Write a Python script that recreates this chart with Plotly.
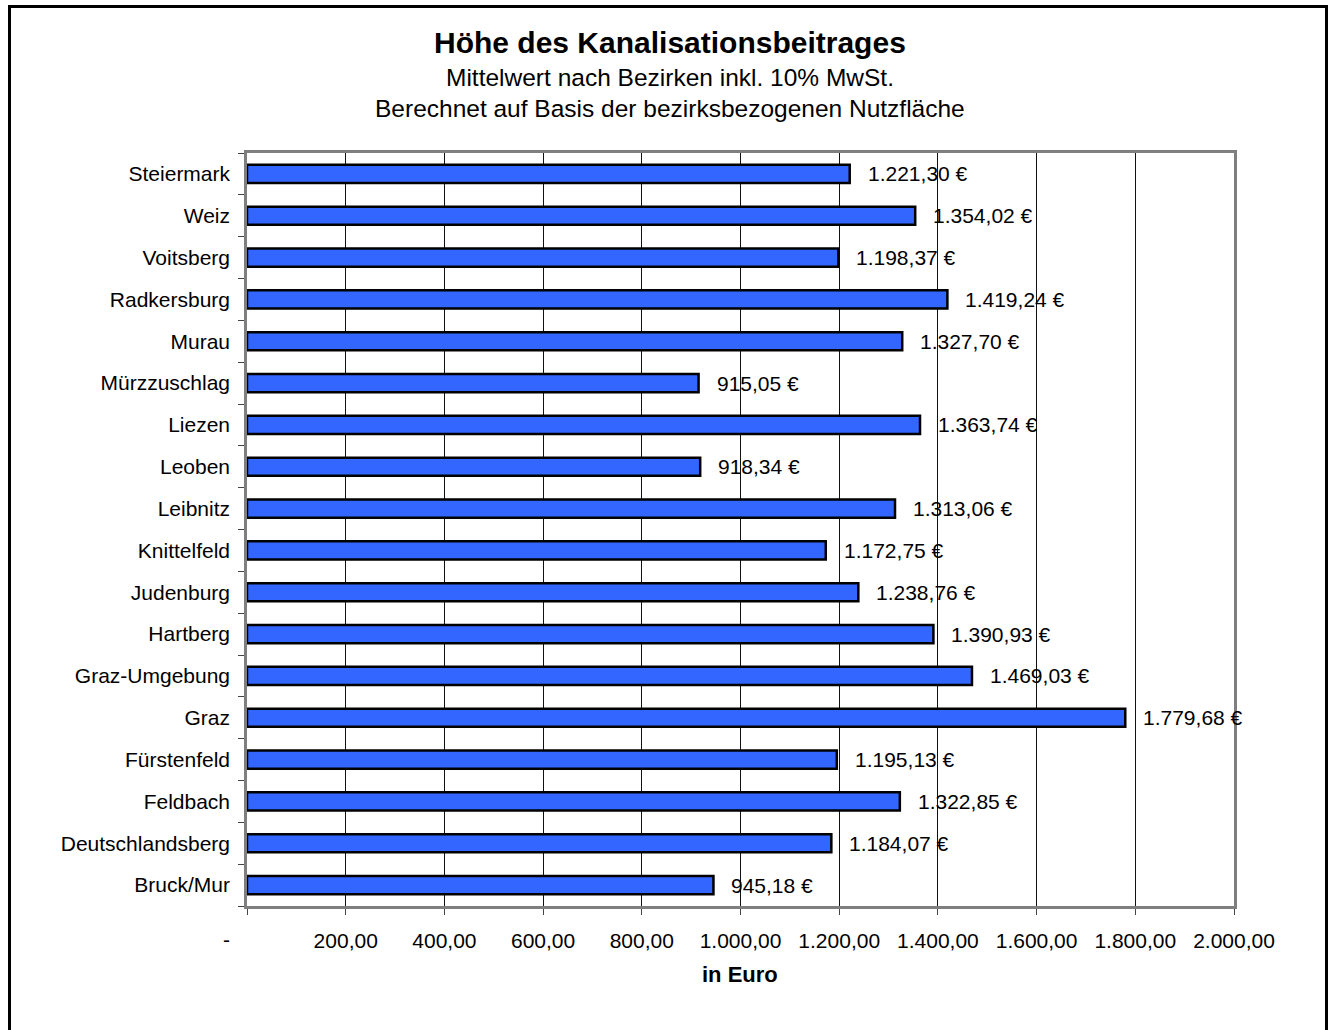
import plotly.graph_objects as go

categories = ["Bruck/Mur", "Deutschlandsberg", "Feldbach", "Fürstenfeld", "Graz",
              "Graz-Umgebung", "Hartberg", "Judenburg", "Knittelfeld", "Leibnitz",
              "Leoben", "Liezen", "Mürzzuschlag", "Murau", "Radkersburg",
              "Voitsberg", "Weiz", "Steiermark"]
values = [945.18, 1184.07, 1322.85, 1195.13, 1779.68,
          1469.03, 1390.93, 1238.76, 1172.75, 1313.06,
          918.34, 1363.74, 915.05, 1327.70, 1419.24,
          1198.37, 1354.02, 1221.30]
x_tickvals = [0, 200, 400, 600, 800, 1000, 1200, 1400, 1600, 1800, 2000]
x_ticktext = ["", "200,00", "400,00", "600,00", "800,00", "1.000,00", "1.200,00",
              "1.400,00", "1.600,00", "1.800,00", "2.000,00"]

FONT = "Liberation Sans, Arial, sans-serif"


def de_fmt(v):
    s = f"{v:,.2f}"
    return s.replace(",", "X").replace(".", ",").replace("X", ".") + " €"


W, H = 1332, 1030
L, R, T, B = 247, 98, 153, 124
PW = W - L - R
PH = H - T - B


def px(x):
    return (x - L) / PW


def py(y):
    return (H - B - y) / PH


fig = go.Figure()
fig.add_trace(go.Bar(
    x=values, y=categories, orientation="h",
    marker=dict(color="#3366FF", line=dict(color="#000000", width=2.5)),
    showlegend=False, hoverinfo="x+y",
))

annotations = []
for c, v in zip(categories, values):
    annotations.append(dict(x=v, y=c, xref="x", yref="y", text=de_fmt(v),
                            showarrow=False, xanchor="left", xshift=16,
                            font=dict(family=FONT, size=21, color="#000")))

annotations += [
    dict(x=px(670), y=py(43), xref="paper", yref="paper", showarrow=False,
         text="<b>Höhe des Kanalisationsbeitrages</b>", xanchor="center", yanchor="middle",
         font=dict(family=FONT, size=30, color="#000")),
    dict(x=px(670), y=py(77), xref="paper", yref="paper", showarrow=False,
         text="Mittelwert nach Bezirken inkl. 10% MwSt.", xanchor="center", yanchor="middle",
         font=dict(family=FONT, size=24.5, color="#000")),
    dict(x=px(670), y=py(108), xref="paper", yref="paper", showarrow=False,
         text="Berechnet auf Basis der bezirksbezogenen Nutzfläche", xanchor="center", yanchor="middle",
         font=dict(family=FONT, size=24.5, color="#000")),
    dict(x=px(226), y=py(939), xref="paper", yref="paper", showarrow=False,
         text="-", xanchor="center", yanchor="middle",
         font=dict(family=FONT, size=21, color="#000")),
    dict(x=px(740), y=py(975), xref="paper", yref="paper", showarrow=False,
         text="<b>in Euro</b>", xanchor="center", yanchor="middle",
         font=dict(family=FONT, size=22, color="#000")),
]

shapes = [
    dict(type="rect", xref="paper", yref="paper",
         x0=px(9.5), x1=px(1326.5), y0=py(1060), y1=py(6.5),
         line=dict(color="#000000", width=3), layer="above"),
]

fig.update_layout(
    width=W, height=H,
    margin=dict(l=L, r=R, t=T, b=B, pad=0),
    paper_bgcolor="#FFFFFF", plot_bgcolor="#FFFFFF",
    font=dict(family=FONT, size=21, color="#000"),
    bargap=0.565,
    annotations=annotations,
    shapes=shapes,
    xaxis=dict(range=[0, 2000], tickvals=x_tickvals, ticktext=x_ticktext,
               showgrid=True, gridcolor="#111111", gridwidth=1,
               showline=True, linecolor="#7f7f7f", linewidth=2.5, mirror=True,
               ticks="outside", ticklen=6, tickcolor="#444444", tickwidth=1,
               ticklabelstandoff=8, zeroline=False,
               tickfont=dict(family=FONT, size=21, color="#000")),
    yaxis=dict(categoryorder="array", categoryarray=categories,
               showgrid=False, showline=True, linecolor="#7f7f7f", linewidth=2.5, mirror=True,
               ticks="outside", ticklen=6, tickcolor="#444444", tickwidth=1,
               tickson="boundaries", ticklabelstandoff=10,
               tickfont=dict(family=FONT, size=21, color="#000")),
)

fig.write_html("out.html", config={"displayModeBar": False},
               post_script="document.body.style.margin='0';document.body.style.overflow='hidden';")
